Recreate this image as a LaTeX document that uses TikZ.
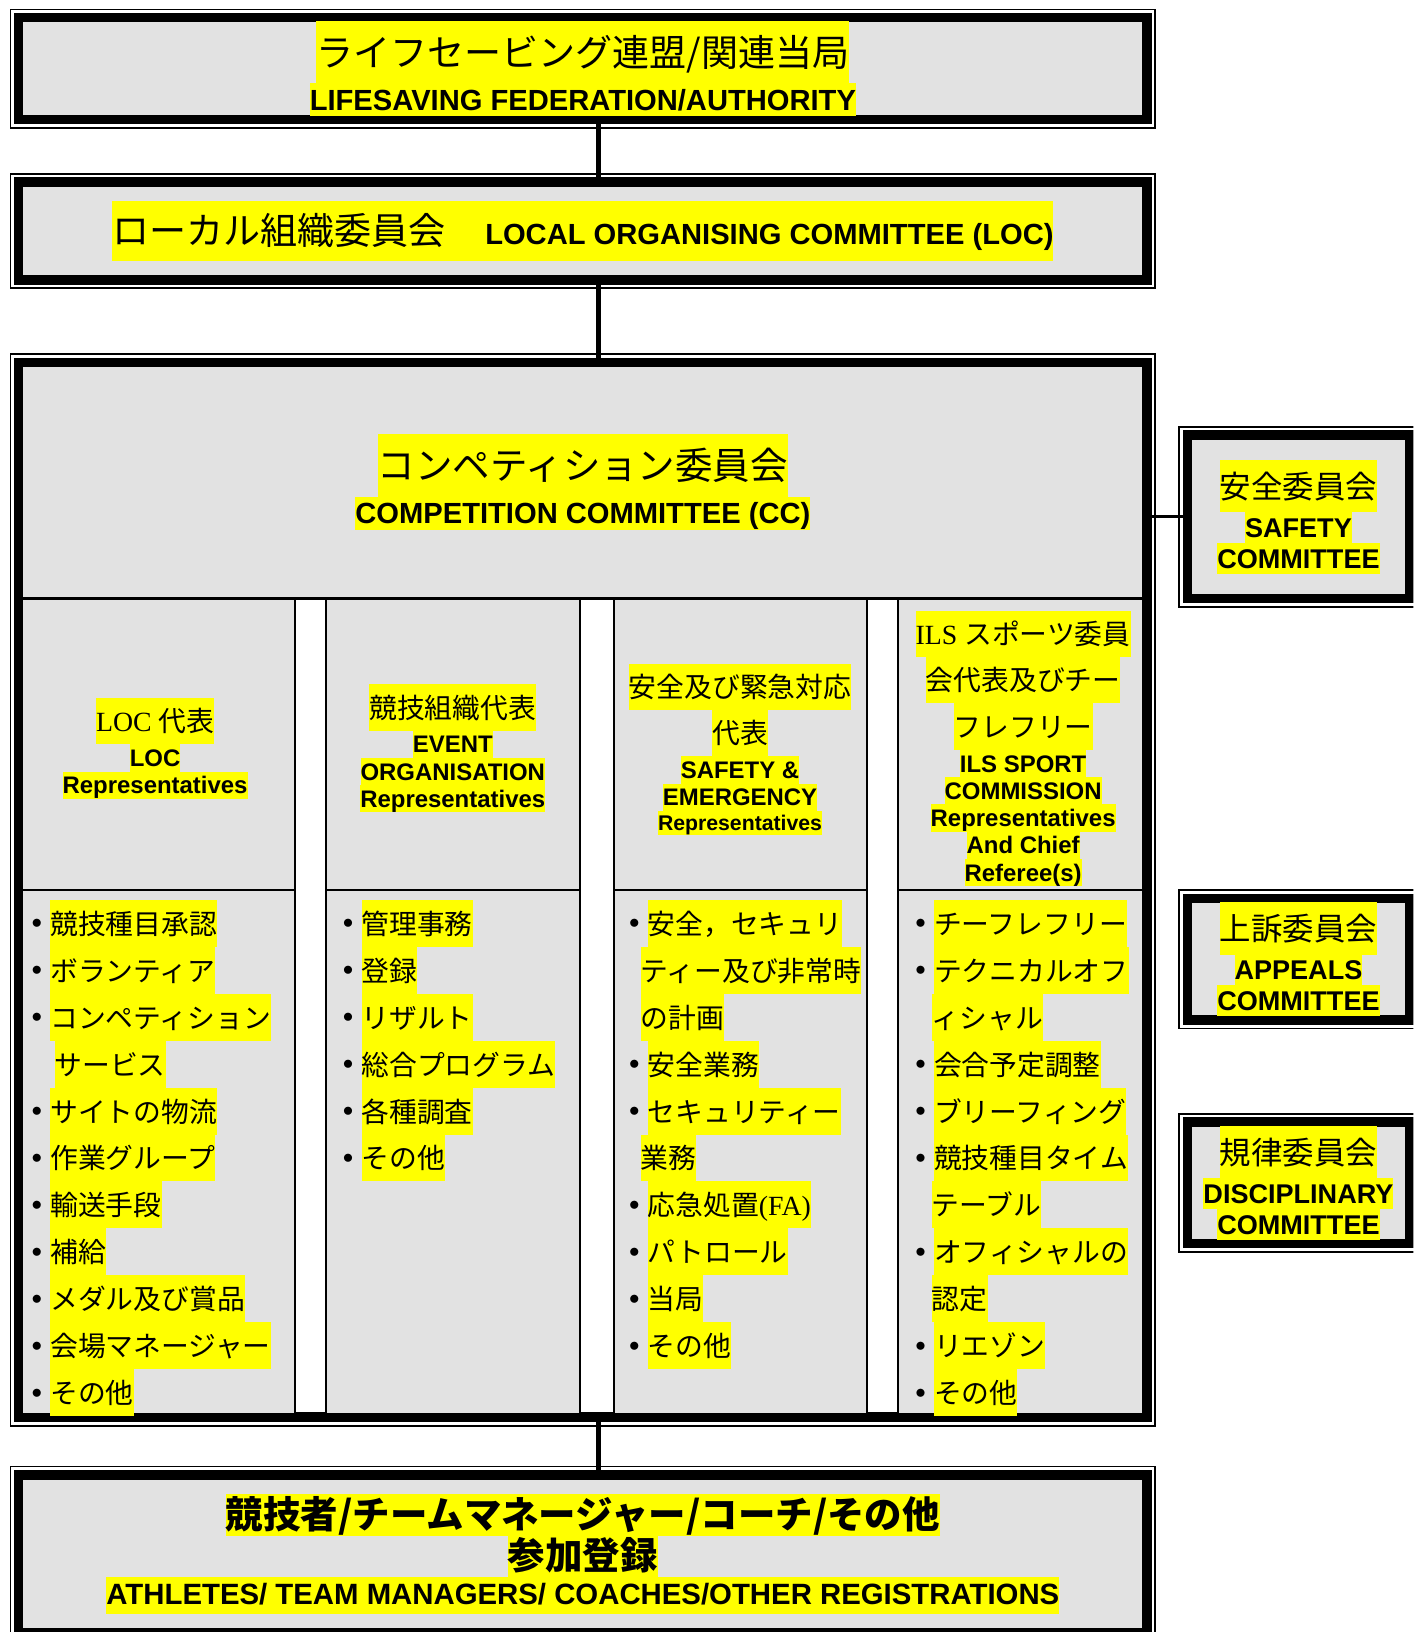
\documentclass[tikz,border=0pt]{standalone}
\usepackage{fontspec}
\setmainfont{Liberation Serif}
\setsansfont{Liberation Sans}
\newfontfamily\jp{Noto Sans CJK JP}
\definecolor{panelgray}{RGB}{226,226,226}
\definecolor{hlyellow}{RGB}{255,255,0}
\setlength\lineskip{0pt}
\setlength\lineskiplimit{0pt}
% yellow marker behind one line of text: depth, height (in em), text
\newcommand\hlbox[3]{{\setlength\fboxsep{0pt}\colorbox{hlyellow}{\rule[-#1em]{0pt}{#2em}#3}}}
\newcommand\jl[2]{{\fontsize{#1}{0}\selectfont\hlbox{.45}{1.67}{#2}}}
\newcommand\el[2]{{\sffamily\bfseries\fontsize{#1}{0}\selectfont\hlbox{.21}{1.14}{#2}}}
\newcommand\bitem[1]{\makebox[9pt][l]{\raisebox{.2em}{\scalebox{.7}{$\bullet$}}}\hlbox{.45}{1.69}{#1}}
\newcommand\bcont[2]{\hspace*{#1}\hlbox{.45}{1.69}{#2}}
\begin{document}
\begin{tikzpicture}[x=0.5pt, y=-0.5pt,
    panel/.style={draw, line width=4.5pt, fill=panelgray, inner sep=0pt, outer sep=0pt, align=center, font=\fontsize{12}{0}\selectfont},
    frame/.style={line width=0.8pt},
    link/.style={line width=2.2pt},
    rule/.style={line width=1pt},
    gap/.style={draw, line width=1pt, fill=white},
    heading/.style={align=center, inner sep=0pt, font=\fontsize{12}{0}\selectfont},
    items/.style={align=left, anchor=north west, inner sep=0pt, font=\jp\fontsize{13.35}{0}\selectfont}]
\useasboundingbox (0,0) rectangle (1358,1568);
\clip (0,0) rectangle (1358,1568);

% main chain
\node[panel, minimum width=542pt, minimum height=49pt] (fed) at (560,66) {\jl{17.8}{\jp ライフセービング連盟/関連当局}\\ \el{14}{LIFESAVING FEDERATION/AUTHORITY}};
\node[panel, minimum width=542pt, minimum height=47pt] (loc) at (560,222) {{\fontsize{17.8}{0}\selectfont\hlbox{.45}{1.63}{\jp ローカル組織委員会\hspace{19pt}{\sffamily\bfseries\fontsize{14}{0}\selectfont LOCAL ORGANISING COMMITTEE (LOC)}}}};
\node[panel, minimum width=542pt, minimum height=507pt] (cc) at (560,855) {};
\node[panel, minimum width=542pt, minimum height=76pt] (ath) at (560,1493) {{\jp\bfseries\fontsize{18}{0}\selectfont\hlbox{.2}{1.1}{競技者/チームマネージャー/コーチ/その他}}\\ {\jp\bfseries\fontsize{18}{0}\selectfont\hlbox{.2}{1.1}{参加登録}}\\ {\sffamily\bfseries\fontsize{14.1}{0}\selectfont\hlbox{.3}{1.25}{ATHLETES/ TEAM MANAGERS/ COACHES/OTHER REGISTRATIONS}}};

% side committees
\node[panel, minimum width=106.5pt, minimum height=78.5pt] (safe) at (1247.5,496.5) {\jl{15.1}{\jp 安全委員会}\\ \el{13}{SAFETY}\\ \el{13}{COMMITTEE}};
\node[panel, minimum width=106.5pt, minimum height=58.5pt] (appeal) at (1247.5,921.5) {\jl{15.1}{\jp 上訴委員会}\\ \el{13}{APPEALS}\\ \el{13}{COMMITTEE}};
\node[panel, minimum width=106.5pt, minimum height=58.5pt] (disc) at (1247.5,1136.5) {\jl{15.1}{\jp 規律委員会}\\ \el{13}{DISCIPLINARY}\\ \el{13}{COMMITTEE}};

\foreach \n in {fed,loc,cc,ath,safe,appeal,disc}
  \draw[frame] ([shift={(-8,-8)}]\n.north west) rectangle ([shift={(8,8)}]\n.south east);

% columns inside the competition committee
\draw[rule] (22.5,575) -- (1097.5,575);
\foreach \l/\r in {283/313,557/590,833/863}
  \draw[gap] (\l,575) rectangle (\r,1357.5);
\foreach \l/\r in {22.5/283,313/557,590/833,863/1097.5}
  \draw[rule] (\l,855) -- (\r,855);

\node[heading] (cchead) at (560,463) {\jl{18}{\jp コンペティション委員会}\\ \el{14}{COMPETITION COMMITTEE (CC)}};

\node[heading] (hd1) at (149,719) {\jl{13.35}{LOC {\jp 代表}}\\ \el{11.5}{LOC}\\ \el{11.5}{Representatives}};
\node[heading] (hd2) at (435,719) {\jl{13.35}{\jp 競技組織代表}\\ \el{11.5}{EVENT}\\ \el{11.5}{ORGANISATION}\\ \el{11.5}{Representatives}};
\node[heading] (hd3) at (711,720) {\jl{13.35}{\jp 安全及び緊急対応}\\ \jl{13.35}{\jp 代表}\\ \el{11.5}{SAFETY \&}\\ \el{11.5}{EMERGENCY}\\ \el{10.2}{Representatives}};
\node[heading] (hd4) at (983,719) {\jl{13.35}{ILS {\jp スポーツ委員}}\\ \jl{13.35}{\jp 会代表及びチー}\\ \jl{13.35}{\jp フレフリー}\\ \el{11.5}{ILS SPORT}\\ \el{11.5}{COMMISSION}\\ \el{11.5}{Representatives}\\ \el{11.5}{And Chief}\\ \el{11.5}{Referee(s)}};

\node[items] (ls1) at (30,864) {\bitem{競技種目承認}\\ \bitem{ボランティア}\\ \bitem{コンペティション}\\ \bcont{11pt}{サービス}\\ \bitem{サイトの物流}\\ \bitem{作業グループ}\\ \bitem{輸送手段}\\ \bitem{補給}\\ \bitem{メダル及び賞品}\\ \bitem{会場マネージャー}\\ \bitem{その他}};
\node[items] (ls2) at (329,864) {\bitem{管理事務}\\ \bitem{登録}\\ \bitem{リザルト}\\ \bitem{総合プログラム}\\ \bitem{各種調査}\\ \bitem{その他}};
\node[items] (ls3) at (604,864) {\bitem{安全，セキュリ}\\ \bcont{5.5pt}{ティー及び非常時}\\ \bcont{5.5pt}{の計画}\\ \bitem{安全業務}\\ \bitem{セキュリティー}\\ \bcont{5.5pt}{業務}\\ \bitem{応急処置{\rmfamily(FA)}}\\ \bitem{パトロール}\\ \bitem{当局}\\ \bitem{その他}};
\node[items] (ls4) at (879,864) {\bitem{チーフレフリー}\\ \bitem{テクニカルオフ}\\ \bcont{8pt}{ィシャル}\\ \bitem{会合予定調整}\\ \bitem{ブリーフィング}\\ \bitem{競技種目タイム}\\ \bcont{8pt}{テーブル}\\ \bitem{オフィシャルの}\\ \bcont{8pt}{認定}\\ \bitem{リエゾン}\\ \bitem{その他}};

% connectors
\draw[link] ([xshift=7.5pt]fed.south) -- ([xshift=7.5pt]loc.north);
\draw[link] ([xshift=7.5pt]loc.south) -- ([xshift=7.5pt]cc.north);
\draw[link] ([xshift=7.5pt]cc.south) -- ([xshift=7.5pt]ath.north);
\draw[link, line width=1.6pt] (cc.east |- safe.west) -- (safe.west);
\end{tikzpicture}
\end{document}
